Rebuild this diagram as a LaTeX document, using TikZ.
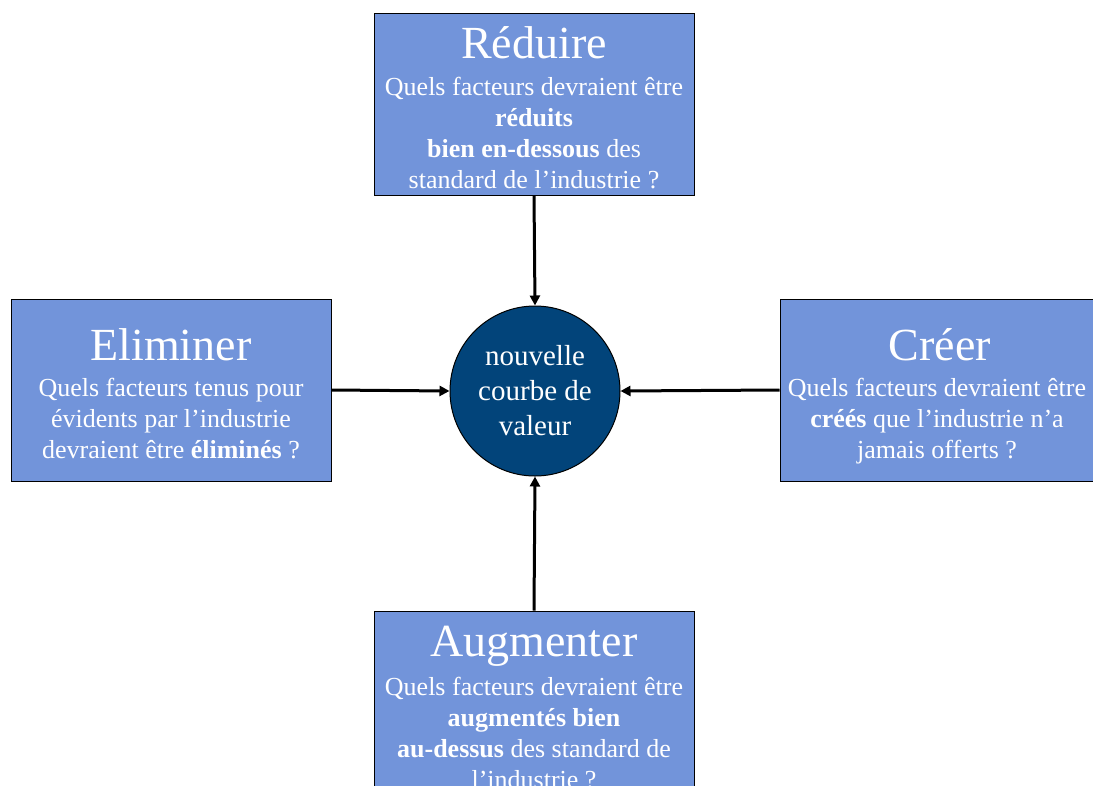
\documentclass[tikz,border=0pt]{standalone}
\usepackage{fontspec}
\setmainfont{Liberation Serif}
\usetikzlibrary{arrows.meta}
\definecolor{boxblue}{RGB}{114,148,218}
\definecolor{hubblue}{RGB}{2,68,122}
\tikzset{
  actionbox/.style={draw=black, line width=1pt, fill=boxblue, minimum width=320pt, minimum height=182pt, inner sep=0pt},
  title/.style={text=white, font=\fontsize{46}{52}\selectfont, inner sep=0pt, anchor=base},
  body/.style={text=white, font=\fontsize{26}{31}\selectfont, align=center, inner sep=0pt, anchor=base},
  hub/.style={circle, draw=black, line width=1pt, fill=hubblue, minimum size=170pt, inner sep=0pt, text=white, font=\fontsize{29}{35}\selectfont, align=center},
  link/.style={line width=3pt, -{Triangle[length=10pt,width=10pt]}}
}
\begin{document}
\begin{tikzpicture}[x=1pt,y=-1pt]
\useasboundingbox (0,0) rectangle (1093,785);
\clip (0,0) rectangle (1093,785);
\fill[white] (0,0) rectangle (1093,785);

% the four action boxes
\node[actionbox] (reduce) at (534,104) {};
\node[actionbox] (elim)   at (171,390) {};
\node[actionbox] (create) at (940,390) {};
\node[actionbox] (raise)  at (534,702) {};

% central value curve
\node[hub] (curve) at (535,391) {nouvelle\\courbe de\\valeur};

% box texts (body nodes sit on the baseline of their last line)
\node[title] (reduceT) at (534,58) {Réduire};
\node[body] (reduceB) at (534,188) {Quels facteurs devraient être\\\textbf{réduits}\\\textbf{bien en-dessous} des\\standard de l’industrie ?};

\node[title] (elimT) at (171,360) {Eliminer};
\node[body] (elimB) at (171,458) {Quels facteurs tenus pour\\évidents par l’industrie\\devraient être \textbf{éliminés} ?};

\node[title] (createT) at (940,360) {Créer};
\node[body] (createB) at (937,458) {Quels facteurs devraient être\\\textbf{créés} que l’industrie n’a\\jamais offerts ?};

\node[title] (raiseT) at (534,656) {Augmenter};
\node[body] (raiseB) at (534,788) {Quels facteurs devraient être\\\textbf{augmentés bien}\\\textbf{au-dessus} des standard de\\l’industrie ?};

% connectors into the hub
\draw[link] (reduce.south) -- (curve.north);
\draw[link] (elim.east) -- (curve.west);
\draw[link] (create.west) -- (curve.east);
\draw[link] (raise.north) -- (curve.south);
\end{tikzpicture}
\end{document}
